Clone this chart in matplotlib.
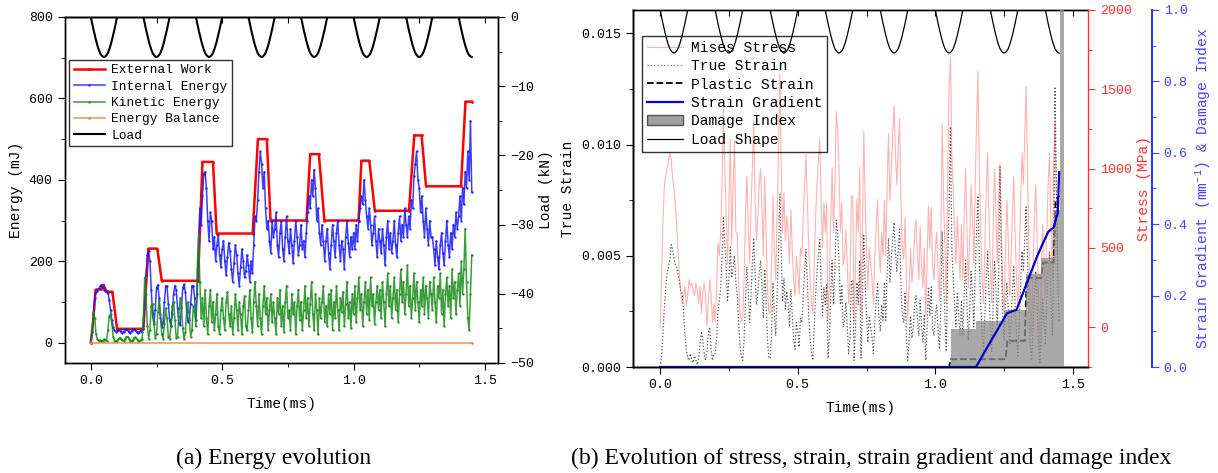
import numpy as np
import matplotlib.pyplot as plt
from matplotlib.ticker import MultipleLocator, FormatStrFormatter
from matplotlib.patches import Patch
from matplotlib.lines import Line2D

plt.rcParams['font.family'] = ['Liberation Mono', 'DejaVu Sans']
plt.rcParams['mathtext.fontset'] = 'custom'
plt.rcParams['mathtext.rm'] = 'Liberation Mono'
plt.rcParams['mathtext.it'] = 'Liberation Mono'
plt.rcParams['axes.linewidth'] = 1.0

time = np.round(np.arange(291) * 0.005, 3)

# (a) energies, mJ
ext_t = [0, 0.01, 0.018, 0.04, 0.048, 0.06, 0.082, 0.1, 0.2, 0.219, 0.253, 0.27, 0.408,
         0.425, 0.465, 0.479, 0.616, 0.636, 0.67, 0.684, 0.821, 0.835, 0.868, 0.889,
         1.019, 1.03, 1.06, 1.081, 1.211, 1.231, 1.259, 1.276, 1.409, 1.426, 1.45]
ext_work = [0, 60, 130, 132, 142, 125, 125, 34, 34, 231, 231, 152, 152,
            444, 444, 268, 268, 500, 500, 300, 300, 463, 463, 300,
            300, 447, 447, 324, 324, 509, 509, 384, 384, 592, 592]

internal = [0, 25, 70, 110, 125, 128, 132, 138, 142, 136, 130, 128, 126, 122, 105, 80, 55, 38, 30, 27,
            28, 32, 30, 26, 24, 27, 32, 34, 30, 26, 24, 28, 33, 34, 30, 26, 24, 27, 30, 25,
            40, 95, 165, 215, 225, 200, 130, 70, 45, 80, 135, 142, 110, 60, 38, 50, 100, 140, 138, 95,
            55, 40, 70, 120, 140, 130, 85, 48, 44, 85, 135, 143, 125, 75, 50, 55, 95, 140, 140, 110,
            55, 120, 250, 330, 290, 360, 415, 420, 380, 300, 250, 320, 300, 230, 260, 200, 240, 265, 215, 185,
            230, 250, 200, 165, 210, 245, 225, 180, 150, 195, 240, 215, 170, 140, 185, 230, 200, 160, 175, 215,
            190, 150, 200, 170, 240, 310, 300, 350, 420, 470, 440, 380, 420, 330, 280, 300, 250, 220, 300, 260,
            280, 320, 240, 210, 270, 300, 230, 200, 260, 310, 250, 220, 280, 240, 195, 250, 300, 260, 215, 240,
            290, 230, 250, 210, 270, 320, 360, 330, 400, 360, 425, 380, 300, 330, 270, 240, 290, 250, 200, 250,
            280, 220, 180, 240, 290, 250, 210, 270, 300, 240, 200, 250, 230, 180, 260, 300, 245, 210, 260, 230,
            270, 230, 290, 250, 300, 330, 360, 340, 400, 350, 310, 280, 330, 290, 240, 270, 310, 250, 210, 280,
            250, 220, 280, 240, 190, 260, 300, 230, 270, 220, 250, 300, 240, 210, 270, 310, 250, 290, 260, 330,
            290, 260, 310, 280, 350, 330, 410, 440, 470, 400, 380, 320, 360, 300, 260, 330, 280, 240, 300, 260,
            260, 230, 190, 250, 210, 180, 240, 270, 220, 190, 250, 300, 240, 210, 270, 230, 290, 260, 320, 280,
            310, 360, 300, 380, 340, 420, 380, 470, 400, 545, 370]

kinetic = [0, 30, 75, 60, 20, 8, 5, 6, 4, 5, 8, 6, 5, 30, 65, 70, 45, 15, 5, 3,
           4, 8, 12, 10, 6, 4, 8, 14, 15, 10, 5, 4, 7, 12, 13, 9, 5, 4, 6, 10,
           60, 160, 120, 40, 10, 30, 90, 95, 50, 12, 20, 75, 105, 70, 20, 10, 45, 85, 60, 15,
           8, 40, 90, 100, 55, 12, 15, 65, 110, 90, 35, 8, 25, 80, 100, 60, 15, 30, 90, 75,
           40, 180, 265, 150, 60, 110, 40, 130, 60, 20, 90, 130, 50, 100, 30, 70, 120, 40, 20, 80,
           110, 60, 30, 100, 125, 70, 40, 90, 20, 60, 120, 80, 30, 100, 70, 20, 90, 115, 40, 30,
           80, 130, 60, 25, 100, 150, 90, 40, 120, 60, 20, 90, 140, 70, 110, 30, 80, 120, 50, 100,
           60, 20, 110, 70, 130, 40, 90, 25, 100, 140, 60, 80, 30, 120, 70, 100, 20, 90, 130, 55,
           100, 30, 80, 140, 60, 110, 40, 95, 150, 70, 30, 120, 80, 20, 110, 60, 100, 140, 50, 90,
           40, 120, 70, 130, 30, 100, 60, 140, 80, 30, 110, 75, 125, 40, 95, 150, 60, 100, 35, 120,
           70, 140, 50, 110, 160, 80, 120, 40, 100, 150, 70, 130, 55, 160, 90, 120, 45, 100, 140, 80,
           130, 60, 150, 100, 40, 120, 170, 90, 140, 60, 110, 160, 80, 130, 50, 120, 180, 100, 150, 70,
           120, 190, 90, 140, 60, 110, 170, 80, 150, 100, 50, 130, 90, 160, 70, 140, 110, 60, 150, 120,
           80, 160, 100, 50, 140, 110, 170, 70, 130, 40, 120, 160, 90, 140, 60, 180, 110, 150, 70, 130,
           170, 90, 200, 120, 180, 280, 150, 60, 30, 120, 215]

balance_t = [0, 1.45]
balance = [0, 0]

# load pulse (kN), one 0.2 ms cycle
load_cycle = [0, -0.9, -1.8, -2.6, -3.4, -4.1, -4.7, -5.2, -5.5, -5.7, -5.8, -5.7, -5.5, -5.2,
              -4.7, -4.1, -3.4, -2.6, -1.8, -0.9, 0, 0.9, 1.8, 2.6, 3.4, 4.1, 4.7, 5.2, 5.5,
              5.7, 5.8, 5.7, 5.5, 5.2, 4.7, 4.1, 3.4, 2.6, 1.8, 0.9]
load = np.tile(load_cycle, 8)[:len(time)]

# (b) Mises stress, MPa
stress = [0, 300, 650, 880, 960, 1000, 1040, 1100, 1060, 950, 870, 780, 640, 480, 330, 220, 150, 200, 260, 134,
          200, 300, 260, 280, 230, 200, 280, 230, 150, 260, 90, 220, 280, 200, 8, 150, 300, 220, 30, 150,
          30, 250, 530, 450, 600, 900, 1374, 1000, 700, 400, 800, 1185, 520, 900, 1180, 600, 590, 300, 100, 30,
          60, 300, 700, 953, 650, 400, 750, 1000, 1300, 800, 550, 700, 900, 1000, 750, 450, 950, 600, 250, 90,
          90, 400, 827, 500, 300, 700, 1100, 1594, 1000, 600, 848, 540, 700, 605, 400, 743, 500, 300, 200, 450,
          350, 210, 500, 460, 700, 900, 1090, 800, 500, 300, 150, 90, 400, 700, 900, 1050, 1185, 800, 500, 785,
          600, 785, 40, 300, 700, 1006, 600, 900, 1360, 1250, 1000, 600, 785, 390, 450, 615, 400, 150, 300, 827,
          827, 30, 400, 805, 600, 1007, 70, 600, 1236, 800, 500, 240, 500, 400, 300, 145, 450, 650, 805, 500,
          345, 600, 450, 800, 450, 900, 1223, 800, 1000, 1200, 1397, 1100, 900, 1100, 1316, 800, 500, 430, 694, 300,
          50, 280, 500, 280, 400, 600, 680, 450, 300, 638, 400, 250, 500, 70, 400, 764, 500, 758, 400, 300,
          485, 600, 350, 170, 600, 1286, 800, 500, 150, 1000, 1500, 1700, 1100, 869, 600, 400, 700, 500, 300, 650,
          300, 700, 1000, 600, 250, 550, 900, 700, 400, 900, 1300, 1615, 1000, 600, 300, 150, 500, 850, 1100, 700,
          400, 150, 600, 1000, 750, 400, 800, 1035, 600, 250, 100, 500, 800, 550, 200, 400, 700, 950, 600, 300,
          100, 450, 800, 1100, 900, 1200, 1520, 1000, 500, 200, -50, 350, 700, 900, 550, 200, -150, 300, 650, 450,
          200, 600, 900, 1100, 700, 300, 1000, 1300, 800, 400, 200]

# true strain in units of 1e-3
true_strain_e3 = [0, 0.5, 1.5, 2.6, 3.5, 4.2, 4.5, 4.8, 5.5, 5.3, 4.9, 4.6, 4.5, 4.2, 3.8, 3.4, 3.3, 2.5, 1.5, 0.8,
                  0.4, 0.3, 0.6, 0.3, 0.2, 0.5, 0.3, 0.1, 0.4, 1.0, 1.6, 1.2, 0.6, 0.3, 0.7, 1.5, 1.8, 0.8, 0.3, 0.6,
                  0.6, 1.2, 2.5, 3.0, 3.5, 5.0, 6.7, 5.5, 4.5, 3.0, 4.0, 5.4, 4.0, 4.5, 5.0, 3.8, 3.3, 2.0, 1.0, 0.5,
                  0.3, 1.2, 3.0, 4.5, 3.5, 2.0, 3.2, 4.6, 5.8, 4.2, 2.8, 3.3, 4.2, 4.8, 3.6, 2.2, 4.4, 3.0, 1.2, 0.4,
                  0.4, 1.5, 3.8, 2.5, 1.4, 3.2, 5.0, 7.8, 5.2, 3.0, 4.0, 2.6, 3.4, 2.9, 1.8, 3.5, 2.4, 1.2, 0.8, 2.0,
                  1.6, 0.9, 2.2, 2.0, 3.2, 4.3, 5.3, 3.8, 2.3, 1.3, 0.6, 0.3, 1.8, 3.3, 4.3, 5.0, 5.8, 3.8, 2.3, 3.6,
                  2.8, 3.7, 0.4, 1.3, 3.3, 4.8, 2.8, 4.4, 6.6, 6.0, 4.8, 2.8, 3.7, 1.8, 2.1, 2.9, 1.8, 0.6, 1.3, 3.9,
                  3.9, 0.3, 1.8, 3.8, 2.8, 4.8, 0.4, 2.8, 5.9, 3.8, 2.3, 1.1, 2.3, 1.8, 1.3, 0.6, 2.0, 3.0, 3.8, 2.3,
                  1.6, 2.8, 2.1, 3.8, 2.1, 4.3, 5.8, 3.8, 4.8, 5.7, 6.5, 5.2, 4.3, 5.2, 6.2, 3.8, 2.3, 2.0, 3.3, 1.4,
                  0.3, 1.3, 2.3, 1.3, 1.8, 2.8, 3.2, 2.1, 1.4, 3.0, 1.8, 1.1, 2.3, 0.3, 1.8, 3.6, 2.3, 3.6, 1.8, 1.4,
                  2.3, 2.8, 1.6, 0.8, 2.8, 6.1, 3.8, 2.3, 0.7, 4.8, 7.2, 10.8, 5.2, 4.1, 2.8, 1.8, 3.3, 2.3, 1.4, 3.0,
                  1.4, 3.3, 4.8, 2.8, 1.2, 2.6, 4.3, 3.3, 1.8, 4.3, 6.2, 7.7, 4.8, 2.8, 1.4, 0.7, 2.4, 4.0, 5.2, 3.3,
                  1.9, 0.7, 2.8, 4.8, 3.6, 1.9, 3.8, 9.0, 5.2, 2.4, 1.2, 2.8, 3.8, 2.6, 1.0, 1.9, 3.3, 4.5, 2.8, 1.4,
                  0.5, 2.1, 3.8, 5.2, 4.3, 5.7, 7.2, 4.8, 2.4, 1.0, 0.3, 1.7, 3.3, 4.3, 2.6, 1.0, 0.2, 1.4, 3.1, 2.1,
                  1.0, 2.8, 4.3, 5.2, 3.3, 1.4, 4.8, 12.6, 8.0, 4.0, 2.0]

plastic_t = [0, 1.05, 1.056, 1.255, 1.262, 1.325, 1.332, 1.385, 1.392, 1.43, 1.437, 1.45]
plastic_strain = [0, 0, 0.00035, 0.00035, 0.00118, 0.00118, 0.0040, 0.0040, 0.0047, 0.0047, 0.0075, 0.0077]

grad_t = [0, 1.148, 1.17, 1.2, 1.23, 1.26, 1.275, 1.295, 1.31, 1.33, 1.35, 1.37, 1.39, 1.41,
          1.42, 1.43, 1.44, 1.445, 1.45]
strain_grad = [0, 0, 0.03, 0.07, 0.11, 0.15, 0.155, 0.16, 0.19, 0.23, 0.27, 0.31, 0.345, 0.378,
               0.385, 0.39, 0.42, 0.43, 0.546]

damage_t = [1.056, 1.148, 1.248, 1.331, 1.385, 1.432, 1.452, 1.466]
damage = [0.107, 0.13, 0.16, 0.26, 0.305, 0.44, 1.0, 1.0]

# ---- figure ----
fig = plt.figure(figsize=(12.18, 4.73), dpi=100)

# (a) energy evolution
ax1 = fig.add_axes([0.0530, 0.2326, 0.3559, 0.7315])
ax1.plot(ext_t, ext_work, color='#ff0000', lw=1.8, marker='.', ms=2, label='External Work')
ax1.plot(time, internal, color='#1a1aff', lw=1.1, alpha=0.85, marker='.', ms=1.5, label='Internal Energy')
ax1.plot(time, kinetic, color='#1a8c1a', lw=1.1, alpha=0.85, marker='.', ms=1.5, label='Kinetic Energy')
ax1.plot(balance_t, balance, color='#f08030', lw=1.2, alpha=0.8, marker='.', ms=2, label='Energy Balance')
ax1.set_xlim(-0.1, 1.55)
ax1.set_ylim(-50, 800)
ax1.xaxis.set_major_locator(MultipleLocator(0.5))
ax1.xaxis.set_minor_locator(MultipleLocator(0.25))
ax1.xaxis.set_major_formatter(FormatStrFormatter('%.1f'))
ax1.yaxis.set_major_locator(MultipleLocator(200))
ax1.yaxis.set_minor_locator(MultipleLocator(100))
ax1.set_xlabel('Time(ms)', fontsize=10.5, labelpad=7)
ax1.set_ylabel('Energy (mJ)', fontsize=10.5)
ax1.tick_params(which='both', direction='out', labelsize=9.5)
ax1.tick_params(which='major', length=5)
ax1.tick_params(which='minor', length=3)
top1 = ax1.secondary_xaxis('top')
top1.xaxis.set_major_locator(MultipleLocator(0.25))
top1.tick_params(direction='in', length=4, labeltop=False)

ax1r = ax1.twinx()
ax1r.plot(time, load, color='black', lw=1.5, label='Load')
ax1r.set_ylim(-50, 0)
ax1r.yaxis.set_major_locator(MultipleLocator(10))
ax1r.yaxis.set_minor_locator(MultipleLocator(5))
ax1r.set_ylabel('Load (kN)', fontsize=10.5)
ax1r.tick_params(which='both', direction='out', labelsize=9.5)
ax1r.tick_params(which='major', length=5)
ax1r.tick_params(which='minor', length=3)

h1, l1 = ax1.get_legend_handles_labels()
h2, l2 = ax1r.get_legend_handles_labels()
leg1 = ax1r.legend(h1 + h2, l1 + l2, loc='upper left', bbox_to_anchor=(0.0104, 0.876),
                   borderaxespad=0, fontsize=9.3, fancybox=False, edgecolor='black',
                   labelspacing=0.33, handlelength=2.4, handletextpad=0.5, borderpad=0.35,
                   numpoints=1)
leg1.get_frame().set_linewidth(1.0)

# (b) stress, strain, strain gradient and damage
ax = fig.add_axes([0.5194, 0.2241, 0.3739, 0.7548])
ax.plot(time, np.array(true_strain_e3) * 1e-3, color='#555555', ls=':', lw=0.9)
ax.plot(plastic_t, plastic_strain, color='black', ls='--', lw=1.3)
ax.set_xlim(-0.1, 1.555)
ax.set_ylim(0, 0.01605)
ax.xaxis.set_major_locator(MultipleLocator(0.5))
ax.xaxis.set_minor_locator(MultipleLocator(0.25))
ax.xaxis.set_major_formatter(FormatStrFormatter('%.1f'))
ax.yaxis.set_major_locator(MultipleLocator(0.005))
ax.yaxis.set_minor_locator(MultipleLocator(0.0025))
ax.yaxis.set_major_formatter(FormatStrFormatter('%.3f'))
ax.set_xlabel('Time(ms)', fontsize=10.5, labelpad=7)
ax.set_ylabel('True Strain', fontsize=10.5)
ax.tick_params(which='both', direction='out', labelsize=9.5)
ax.tick_params(which='major', length=5)
ax.tick_params(which='minor', length=3)
ax.spines['right'].set_visible(False)
top2 = ax.secondary_xaxis('top')
top2.xaxis.set_major_locator(MultipleLocator(0.25))
top2.tick_params(direction='in', length=4, labeltop=False)

ax2 = ax.twinx()
ax2.plot(time, stress, color='#ff0000', lw=0.8, alpha=0.3)
ax2.set_ylim(-250, 2000)
ax2.yaxis.set_major_locator(MultipleLocator(500))
ax2.yaxis.set_minor_locator(MultipleLocator(250))
ax2.set_ylabel('Stress (MPa)', color='#ff3333', fontsize=10.5)
ax2.spines['right'].set_color('#ff3333')
ax2.spines['top'].set_visible(False)
ax2.tick_params(which='both', direction='out', colors='#ff3333', labelsize=9.5)
ax2.tick_params(which='major', length=5)
ax2.tick_params(which='minor', length=3)

ax3 = ax.twinx()
ax3.fill_between(damage_t, damage, 0, step='post', color='#8c8c8c', alpha=0.75, lw=0)
ax3.plot(grad_t, strain_grad, color='#0000cc', lw=1.6)
ax3.set_ylim(0, 1.0)
ax3.spines['right'].set_position(('axes', 1.14))
ax3.spines['right'].set_color('#3333ff')
ax3.spines['right'].set_linewidth(1.5)
ax3.spines['top'].set_visible(False)
ax3.yaxis.set_major_locator(MultipleLocator(0.2))
ax3.yaxis.set_minor_locator(MultipleLocator(0.1))
ax3.yaxis.set_major_formatter(FormatStrFormatter('%.1f'))
ax3.set_ylabel('Strain Gradient (mm$^{-1}$) & Damage Index', color='#4444ff', fontsize=10.5)
ax3.tick_params(which='both', direction='out', colors='#4444ff', labelsize=9.5)
ax3.tick_params(which='major', length=5)
ax3.tick_params(which='minor', length=3)

ax4 = ax.twinx()
ax4.plot(time, load, color='black', lw=0.9)
ax4.set_ylim(-48, 0)
ax4.axis('off')

handles = [Line2D([], [], color='#ff0000', lw=0.8, alpha=0.3),
           Line2D([], [], color='#777777', ls=':', lw=0.9),
           Line2D([], [], color='black', ls='--', lw=1.3),
           Line2D([], [], color='#0000ee', lw=1.6),
           Patch(facecolor='#a0a0a0', edgecolor='#555555'),
           Line2D([], [], color='black', lw=0.9)]
labels = ['Mises Stress', 'True Strain', 'Plastic Strain', 'Strain Gradient',
          'Damage Index', 'Load Shape']
leg2 = ax4.legend(handles, labels, loc='upper left', bbox_to_anchor=(0.020, 0.928),
                  borderaxespad=0, fontsize=10.5, fancybox=False, edgecolor='black',
                  facecolor='none', framealpha=None, labelspacing=0.3, handlelength=2.5,
                  handletextpad=0.5, borderpad=0.35)
leg2.get_frame().set_linewidth(1.0)

fig.text(274 / 1218, 1 - 458 / 473, '(a) Energy evolution', ha='center', va='center',
         fontsize=17, family=['Liberation Serif'])
fig.text(871 / 1218, 1 - 458 / 473,
         '(b) Evolution of stress, strain, strain gradient and damage index',
         ha='center', va='center', fontsize=17, family=['Liberation Serif'])

fig.savefig('out.png', dpi=100)
